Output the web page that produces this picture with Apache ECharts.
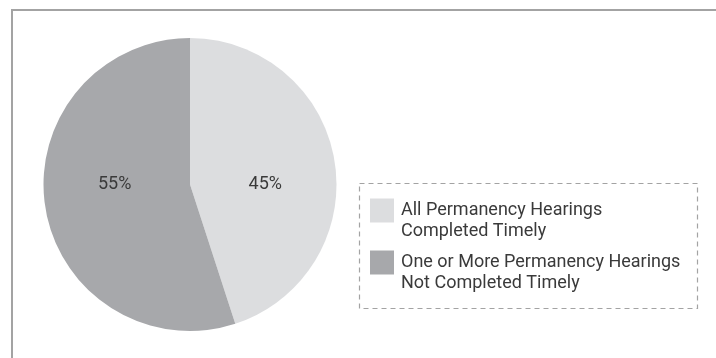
<!DOCTYPE html>
<html>
<head>
<meta charset="utf-8">
<script src="https://cdn.jsdelivr.net/npm/echarts@6/dist/echarts.min.js"></script>
<style>
  html, body { margin: 0; padding: 0; background: #fff; }
  #chart { width: 716px; height: 358px; }
</style>
</head>
<body>
<div id="chart"></div>
<script>
// Share of cases by whether permanency hearings were held on time
const categories = [
  'All Permanency Hearings\nCompleted Timely',
  'One or More Permanency Hearings\nNot Completed Timely'
];
const shares = [45, 55];
const sliceColors = ['#dcdddf', '#a7a8ab'];

const FONT = 'Roboto, "Open Sans", sans-serif';
const pieCenter = [190, 184.5];

const chart = echarts.init(document.getElementById('chart'), null, { renderer: 'canvas' });

chart.setOption({
  animation: false,
  backgroundColor: '#ffffff',
  graphic: [
    // outer frame of the figure panel
    {
      type: 'rect',
      shape: { x: 12, y: 10, width: 730, height: 380 },
      style: { fill: 'none', stroke: '#a3a3a3', lineWidth: 2 },
      silent: true, z: 0
    },
    // dashed frame around the legend
    {
      type: 'rect',
      shape: { x: 359.5, y: 183.5, width: 338, height: 125 },
      style: { fill: 'none', stroke: '#a3a3a3', lineWidth: 1.2, lineDash: [5, 4] },
      silent: true, z: 0
    }
  ],
  legend: {
    orient: 'vertical',
    left: 370,
    top: 179,
    padding: 0,
    itemWidth: 24,
    itemHeight: 24,
    itemGap: -11,
    icon: 'rect',
    selectedMode: false,
    data: categories,
    // leading blank line drops the two text lines so the first sits beside the swatch
    formatter: name => '\n' + name,
    textStyle: {
      fontFamily: FONT,
      fontWeight: 'normal',
      fontSize: 18,
      lineHeight: 21,
      color: '#3a3a3a',
      padding: [0, 0, 0, 2]
    }
  },
  series: [{
    type: 'pie',
    center: pieCenter,
    radius: 146.5,
    startAngle: 90,
    clockwise: true,
    silent: true,
    data: categories.map((name, i) => ({
      name,
      value: shares[i],
      itemStyle: { color: sliceColors[i] }
    })),
    label: {
      show: true,
      position: 'inside',
      formatter: p => p.value + '%',
      fontFamily: FONT,
      fontWeight: 'normal',
      fontSize: 18,
      color: '#3a3a3a'
    },
    labelLayout: p => ({
      // keep both percentage labels on the horizontal line through the centre
      dy: pieCenter[1] - (p.labelRect.y + p.labelRect.height / 2)
    }),
    labelLine: { show: false }
  }]
});
</script>
</body>
</html>
